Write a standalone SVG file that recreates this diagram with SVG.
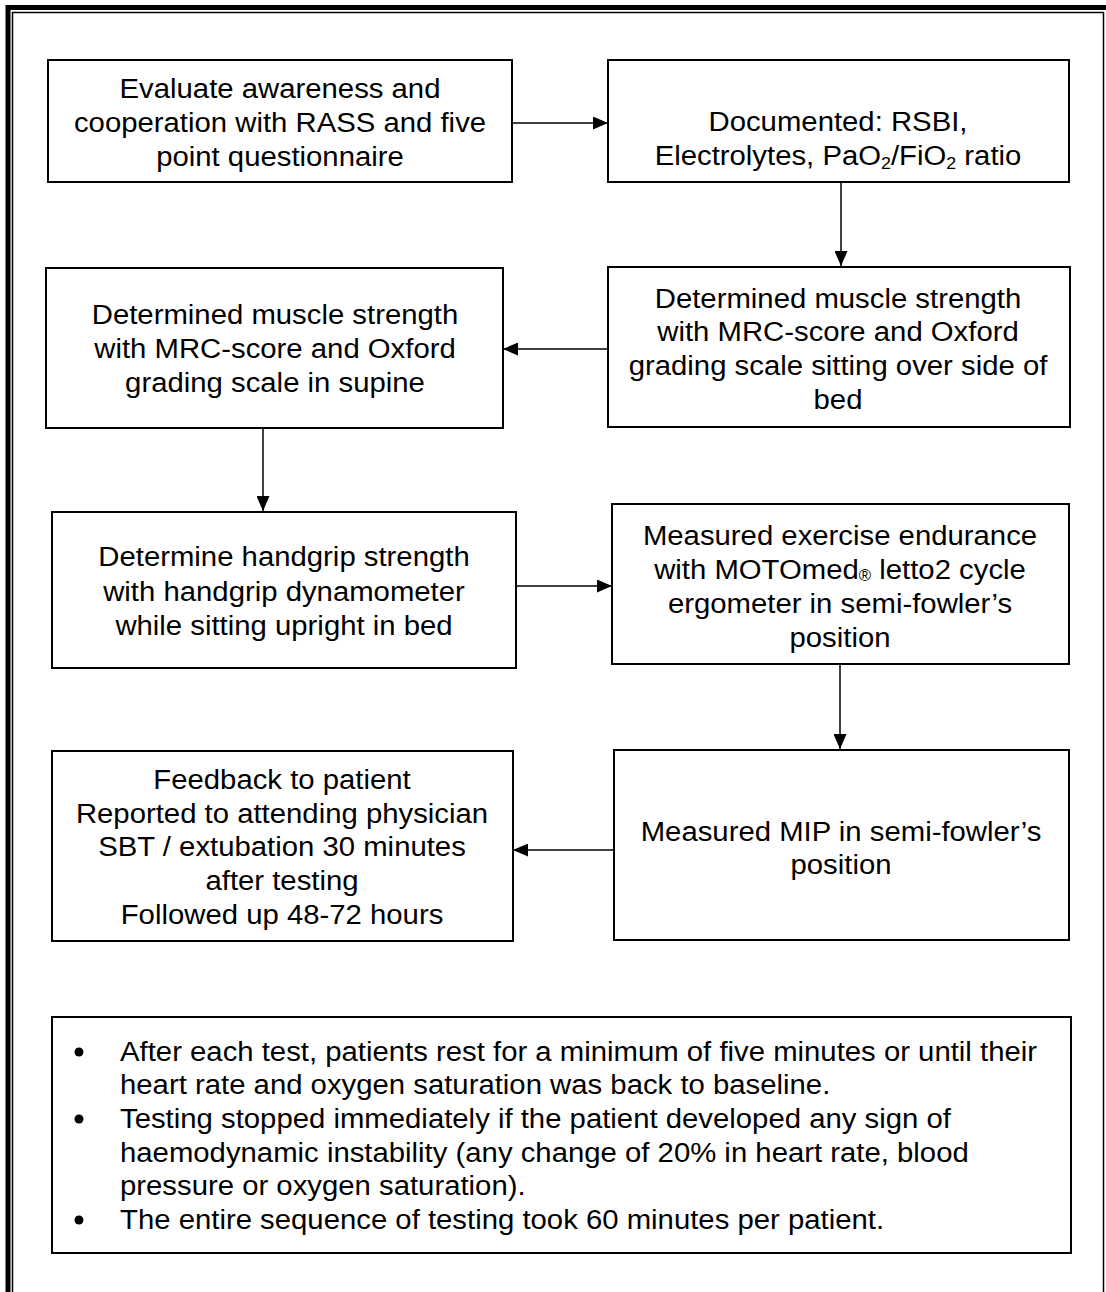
<svg xmlns="http://www.w3.org/2000/svg" width="1106" height="1292" viewBox="0 0 1106 1292">
<defs>
<style>
.box{fill:#fff;stroke:#000;stroke-width:2}
.t{font-family:"Liberation Sans",Arial,sans-serif;font-size:28px;fill:#000;text-anchor:middle}
.n{font-family:"Liberation Sans",Arial,sans-serif;font-size:28px;fill:#000}
.c{stroke:#000;stroke-width:1.5;fill:none;marker-end:url(#ah)}
.sub{font-size:17px}
</style>
<marker id="ah" markerWidth="15" markerHeight="13" refX="15" refY="6.5" orient="auto" markerUnits="userSpaceOnUse">
<path d="M0,0 L15,6.5 L0,13 Z" fill="#000"/>
</marker>
</defs>
<rect width="1106" height="1292" fill="#fff"/>
<g id="frame">
<path d="M8,1292 V7.5 H1106" fill="none" stroke="#000" stroke-width="5"/>
<path d="M12.5,1292 V12.5 H1103.5 V1292" fill="none" stroke="#000" stroke-width="1.5"/>
</g>
<g id="connectors">
<line class="c" x1="512" y1="123" x2="608" y2="123"/>
<line class="c" x1="841" y1="183" x2="841" y2="266"/>
<line class="c" x1="608" y1="349" x2="503" y2="349"/>
<line class="c" x1="263" y1="428" x2="263" y2="511"/>
<line class="c" x1="516" y1="586" x2="612" y2="586"/>
<line class="c" x1="840" y1="664" x2="840" y2="749"/>
<line class="c" x1="614" y1="850" x2="513" y2="850"/>
</g>
<g id="n1">
<rect class="box" x="48" y="60" width="464" height="122"/>
<text class="t" transform="translate(280 0) scale(1.047 1)" y="98">Evaluate awareness and</text>
<text class="t" transform="translate(280 0) scale(1.047 1)" y="132">cooperation with RASS and five</text>
<text class="t" transform="translate(280 0) scale(1.047 1)" y="166">point questionnaire</text>
</g>
<g id="n2">
<rect class="box" x="608" y="60" width="461" height="122"/>
<text class="t" transform="translate(838 0) scale(1.047 1)" y="131">Documented: RSBI,</text>
<text class="t" transform="translate(838 0) scale(1.047 1)" y="165">Electrolytes, PaO<tspan class="sub" dy="4">2</tspan><tspan dy="-4">/FiO</tspan><tspan class="sub" dy="4">2</tspan><tspan dy="-4"> ratio</tspan></text>
</g>
<g id="n3">
<rect class="box" x="608" y="267" width="462" height="160"/>
<text class="t" transform="translate(838 0) scale(1.047 1)" y="308">Determined muscle strength</text>
<text class="t" transform="translate(838 0) scale(1.047 1)" y="341">with MRC-score and Oxford</text>
<text class="t" transform="translate(838 0) scale(1.047 1)" y="375">grading scale sitting over side of</text>
<text class="t" transform="translate(838 0) scale(1.047 1)" y="409">bed</text>
</g>
<g id="n4">
<rect class="box" x="46" y="268" width="457" height="160"/>
<text class="t" transform="translate(275 0) scale(1.047 1)" y="324">Determined muscle strength</text>
<text class="t" transform="translate(275 0) scale(1.047 1)" y="358">with MRC-score and Oxford</text>
<text class="t" transform="translate(275 0) scale(1.047 1)" y="392">grading scale in supine</text>
</g>
<g id="n5">
<rect class="box" x="52" y="512" width="464" height="156"/>
<text class="t" transform="translate(284 0) scale(1.047 1)" y="566">Determine handgrip strength</text>
<text class="t" transform="translate(284 0) scale(1.047 1)" y="601">with handgrip dynamometer</text>
<text class="t" transform="translate(284 0) scale(1.047 1)" y="635">while sitting upright in bed</text>
</g>
<g id="n6">
<rect class="box" x="612" y="504" width="457" height="160"/>
<text class="t" transform="translate(840 0) scale(1.047 1)" y="545">Measured exercise endurance</text>
<text class="t" transform="translate(840 0) scale(1.047 1)" y="579">with MOTOmed<tspan font-size="16" dy="2">®</tspan><tspan dy="-2"> letto2 cycle</tspan></text>
<text class="t" transform="translate(840 0) scale(1.047 1)" y="613">ergometer in semi-fowler’s</text>
<text class="t" transform="translate(840 0) scale(1.047 1)" y="647">position</text>
</g>
<g id="n7">
<rect class="box" x="614" y="750" width="455" height="190"/>
<text class="t" transform="translate(841 0) scale(1.047 1)" y="841">Measured MIP in semi-fowler’s</text>
<text class="t" transform="translate(841 0) scale(1.047 1)" y="874">position</text>
</g>
<g id="n8">
<rect class="box" x="52" y="751" width="461" height="190"/>
<text class="t" transform="translate(282 0) scale(1.047 1)" y="789">Feedback to patient</text>
<text class="t" transform="translate(282 0) scale(1.047 1)" y="823">Reported to attending physician</text>
<text class="t" transform="translate(282 0) scale(1.047 1)" y="856">SBT / extubation 30 minutes</text>
<text class="t" transform="translate(282 0) scale(1.047 1)" y="890">after testing</text>
<text class="t" transform="translate(282 0) scale(1.047 1)" y="924">Followed up 48-72 hours</text>
</g>
<g id="notes">
<rect class="box" x="52" y="1017" width="1019" height="236"/>
<circle cx="79" cy="1052" r="4.5"/>
<circle cx="79" cy="1119" r="4.5"/>
<circle cx="79" cy="1220" r="4.5"/>
<g transform="translate(120 0) scale(1.047 1)">
<text class="n" x="0" y="1061">After each test, patients rest for a minimum of five minutes or until their</text>
<text class="n" x="0" y="1094">heart rate and oxygen saturation was back to baseline.</text>
<text class="n" x="0" y="1128">Testing stopped immediately if the patient developed any sign of</text>
<text class="n" x="0" y="1162">haemodynamic instability (any change of 20% in heart rate, blood</text>
<text class="n" x="0" y="1195">pressure or oxygen saturation).</text>
<text class="n" x="0" y="1229">The entire sequence of testing took 60 minutes per patient.</text>
</g>
</g>
</svg>
